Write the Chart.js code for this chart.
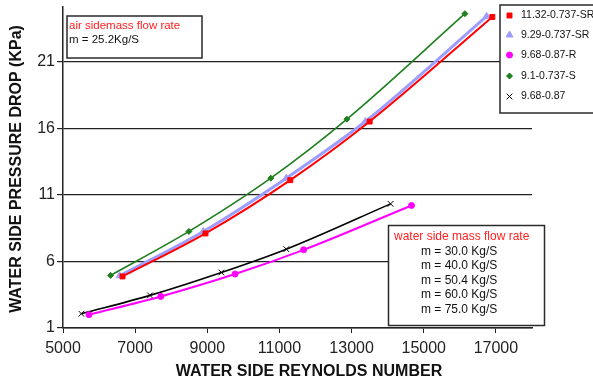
<!DOCTYPE html>
<html>
<head>
<meta charset="utf-8">
<script src="https://cdn.jsdelivr.net/npm/chart.js@4/dist/chart.umd.min.js"></script>
<style>
    html, body { margin: 0; padding: 0; background: #fff; }
    canvas { display: block; }
</style>
</head>
<body>
<canvas id="chart" width="593" height="383"></canvas>
<script>
(function() {
    'use strict';

    // Reynolds number (x) and pressure drop in KPa (y)
    var seriesNames = ['11.32-0.737-SR', '9.29-0.737-SR', '9.68-0.87-R', '9.1-0.737-S', '9.68-0.87'];

    var redX = [6650, 8950, 11300, 13500, 16900];
    var redY = [4.87, 8.1, 12.1, 16.5, 24.35];

    var blueX = [6570, 8890, 11190, 13380, 16740];
    var blueY = [4.92, 8.25, 12.25, 16.5, 24.4];

    var magentaX = [5720, 7710, 9770, 11670, 14660];
    var magentaY = [2.0, 3.37, 5.05, 6.87, 10.2];

    var greenX = [6320, 8490, 10760, 12870, 16140];
    var greenY = [4.95, 8.25, 12.25, 16.68, 24.6];

    var blackX = [5510, 7410, 9390, 11190, 14080];
    var blackY = [2.07, 3.45, 5.17, 6.92, 10.32];

    var xTicks = [5000, 7000, 9000, 11000, 13000, 15000, 17000];
    var yTicks = [1, 6, 11, 16, 21];

    var airNote = ['air sidemass flow rate', 'm = 25.2Kg/S'];
    var waterNote = ['water side mass flow rate', 'm = 30.0 Kg/S', 'm = 40.0 Kg/S',
        'm = 50.4 Kg/S', 'm = 60.0 Kg/S', 'm = 75.0 Kg/S'];

    var FONT = '"Liberation Sans", Arial, Helvetica, sans-serif';

    function toPoints(xs, ys) {
        return xs.map(function(x, i) {
            return { x: x, y: ys[i] };
        });
    }

    function makeSet(label, xs, ys, color, style, radius, width) {
        return {
            label: label,
            data: toPoints(xs, ys),
            borderColor: color,
            backgroundColor: color,
            borderWidth: width,
            pointStyle: style,
            pointRadius: radius,
            pointBorderWidth: 1,
            pointBackgroundColor: color,
            pointBorderColor: color,
            cubicInterpolationMode: 'monotone',
            fill: false
        };
    }

    var datasets = [
        makeSet(seriesNames[0], redX, redY, '#ff0000', 'rect', 3.5, 2),
        makeSet(seriesNames[1], blueX, blueY, '#9d9dff', 'triangle', 4, 3),
        makeSet(seriesNames[2], magentaX, magentaY, '#ff00ff', 'circle', 3, 2),
        makeSet(seriesNames[3], greenX, greenY, '#1e7f1e', 'rectRot', 3, 1.6),
        makeSet(seriesNames[4], blackX, blackY, '#000000', 'crossRot', 4, 1.6)
    ];

    function box(ctx, x, y, w, h) {
        ctx.fillStyle = '#fff';
        ctx.fillRect(x, y, w, h);
        ctx.strokeStyle = '#2a2a2a';
        ctx.lineWidth = 1.5;
        ctx.strokeRect(x, y, w, h);
    }

    // 축 제목, 주석 상자, 범례
    var overlay = {
        id: 'overlay',
        afterDraw: function(chart) {
            var ctx = chart.ctx;
            ctx.save();

            ctx.fillStyle = '#111';
            ctx.font = 'bold 16px ' + FONT;
            ctx.textAlign = 'center';
            ctx.textBaseline = 'middle';
            ctx.fillText('WATER SIDE REYNOLDS NUMBER', 309, 372);
            ctx.save();
            ctx.translate(17, 169);
            ctx.rotate(-Math.PI / 2);
            ctx.fillText('WATER SIDE PRESSURE DROP (KPa)', 0, 0);
            ctx.restore();

            ctx.textAlign = 'left';

            // air side note
            box(ctx, 67, 16, 135, 42);
            ctx.font = '11.5px ' + FONT;
            ctx.fillStyle = '#ff2020';
            ctx.fillText(airNote[0], 69, 25.5);
            ctx.fillStyle = '#111';
            ctx.fillText(airNote[1], 69, 40);

            // water side note
            box(ctx, 388.5, 225.5, 156, 100);
            ctx.font = '12px ' + FONT;
            ctx.fillStyle = '#ff2020';
            ctx.fillText(waterNote[0], 394, 237);
            ctx.fillStyle = '#111';
            for (var i = 1; i < waterNote.length; i++) {
                ctx.fillText(waterNote[i], 421, 237 + i * 14.5);
            }

            // legend
            box(ctx, 500, 5, 110, 108);
            ctx.font = '10.5px ' + FONT;
            var rows = [15.5, 35, 55, 76, 96.5];
            chart.data.datasets.forEach(function(ds, k) {
                // drawPoint fills/strokes by itself, so set colours first
                ctx.fillStyle = ds.backgroundColor;
                ctx.strokeStyle = ds.borderColor;
                ctx.lineWidth = 1;
                Chart.helpers.drawPoint(ctx, {
                    pointStyle: ds.pointStyle,
                    radius: ds.pointRadius,
                    borderWidth: 1,
                    rotation: 0
                }, 509.5, rows[k]);
                ctx.fillStyle = '#111';
                ctx.fillText(ds.label, 521, rows[k]);
            });

            ctx.restore();
        }
    };

    new Chart(document.getElementById('chart'), {
        type: 'line',
        data: { datasets: datasets },
        options: {
            responsive: false,
            animation: false,
            layout: { padding: { left: 0, top: 7, right: 61, bottom: 0 } },
            plugins: {
                legend: { display: false },
                tooltip: { enabled: false }
            },
            scales: {
                x: {
                    type: 'linear',
                    min: 5000,
                    max: 18000,
                    afterBuildTicks: function(scale) {
                        scale.ticks = xTicks.map(function(v) { return { value: v }; });
                    },
                    afterFit: function(scale) { scale.height = 55; },
                    ticks: {
                        color: '#222',
                        padding: 6,
                        maxRotation: 0,
                        autoSkip: false,
                        font: { family: FONT, size: 16 },
                        callback: function(v) { return String(v); }
                    },
                    grid: {
                        drawOnChartArea: false,
                        drawTicks: true,
                        tickLength: 5,
                        color: '#222'
                    },
                    border: { color: '#222', width: 1.5 }
                },
                y: {
                    type: 'linear',
                    min: 1,
                    max: 25.1,
                    afterBuildTicks: function(scale) {
                        scale.ticks = yTicks.map(function(v) { return { value: v }; });
                    },
                    afterFit: function(scale) {
                        scale.width = 63;
                        // no extra room for half tick labels, the top label sits well inside
                        scale.paddingTop = 0;
                        scale.paddingBottom = 0;
                    },
                    ticks: {
                        color: '#222',
                        padding: 2,
                        font: { family: FONT, size: 16 },
                        callback: function(v) { return String(v); }
                    },
                    grid: {
                        drawTicks: true,
                        tickLength: 6,
                        color: '#222',
                        lineWidth: 1.2
                    },
                    border: { color: '#222', width: 1.5 }
                }
            }
        },
        plugins: [overlay]
    });
})();
</script>
</body>
</html>
